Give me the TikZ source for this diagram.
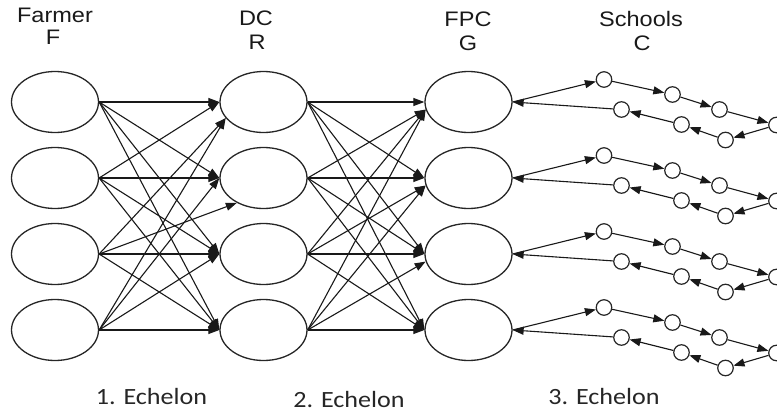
\documentclass[tikz,border=0pt]{standalone}
\usepackage{fontspec}
\setmainfont{Liberation Sans}
\newfontfamily\echfont{Carlito}
\usetikzlibrary{arrows.meta,shapes.geometric}
\begin{document}
\begin{tikzpicture}[x=1pt,y=-1pt,
  bigell/.style={draw=black!85, line width=1.3pt, ellipse, minimum width=87pt, minimum height=61pt, inner sep=0pt},
  sm/.style={draw=black!85, line width=1.2pt, circle, minimum size=15.5pt, inner sep=0pt},
  arr/.style={draw=black!90, line width=1.1pt, -{Triangle[length=11pt,width=8pt]}},
  hd/.style={font=\fontsize{21}{24}\selectfont, anchor=base, xscale=1.12, inner sep=0pt, text=black!90},
  ech/.style={font=\echfont\fontsize{23.3}{26}\selectfont, anchor=base, xscale=1.12, inner sep=0pt, text=black!85}]
\useasboundingbox (0,0) rectangle (777,415);
\clip (0,0) rectangle (777,415);
% headings
\node[hd] (hF1) at (55,22) {Farmer};
\node[hd] (hF2) at (53,45) {F};
\node[hd] (hR1) at (256,25) {DC};
\node[hd] (hR2) at (257,49) {R};
\node[hd] (hG1) at (468,26) {FPC};
\node[hd] (hG2) at (468,50) {G};
\node[hd] (hC1) at (641,26) {Schools};
\node[hd] (hC2) at (642,50) {C};
% echelon labels
\node[ech] (e1) at (151.5,404) {1. Echelon};
\node[ech] (e2) at (349,407) {2. Echelon};
\node[ech] (e3) at (604,404) {3. Echelon};
% ellipses
\foreach \k/\y in {1/102,2/178,3/254,4/330}{
  \node[bigell] (F\k) at (55,\y) {};
  \node[bigell] (R\k) at (263.5,\y) {};
  \node[bigell] (G\k) at (468.5,\y) {};
}
% echelon 1
\foreach \i/\j/\a in {1/1/180,2/1/180,3/1/203,4/1/203,
                      1/2/180,2/2/180,3/2/223,4/2/180,
                      1/3/180,2/3/180,3/3/180,4/3/180,
                      1/4/180,2/4/180,3/4/180,4/4/180}{
  \draw[arr] (F\i.east) -- (R\j.\a);
}
% echelon 2
\foreach \j/\k/\a in {1/1/180,2/1/190,3/1/190,4/1/190,
                      1/2/180,2/2/180,3/2/190,4/2/190,
                      1/3/180,2/3/180,3/3/180,4/3/190,
                      1/4/180,2/4/180,3/4/180,4/4/180}{
  \draw[arr] (R\j.east) -- (G\k.\a);
}
% schools chains
\foreach \k/\y in {1/102,2/178,3/254,4/330}{
  \node[sm] (s\k-1) at (604,\y-22.5) {};
  \node[sm] (s\k-2) at (672.5,\y-7.5) {};
  \node[sm] (s\k-3) at (719.5,\y+7.5) {};
  \node[sm] (s\k-4) at (776.5,\y+23) {};
  \node[sm] (s\k-5) at (621.5,\y+7.5) {};
  \node[sm] (s\k-6) at (681.5,\y+22.5) {};
  \node[sm] (s\k-7) at (725.5,\y+38) {};
  \draw[arr] (G\k.east) -- (s\k-1);
  \draw[arr] (s\k-1) -- (s\k-2);
  \draw[arr] (s\k-2) -- (s\k-3);
  \draw[arr] (s\k-3) -- (s\k-4);
  \draw[arr] (s\k-4) -- (s\k-7);
  \draw[arr] (s\k-7) -- (s\k-6);
  \draw[arr] (s\k-6) -- (s\k-5);
  \draw[arr] (s\k-5) -- (G\k.east);
}
\end{tikzpicture}
\end{document}
